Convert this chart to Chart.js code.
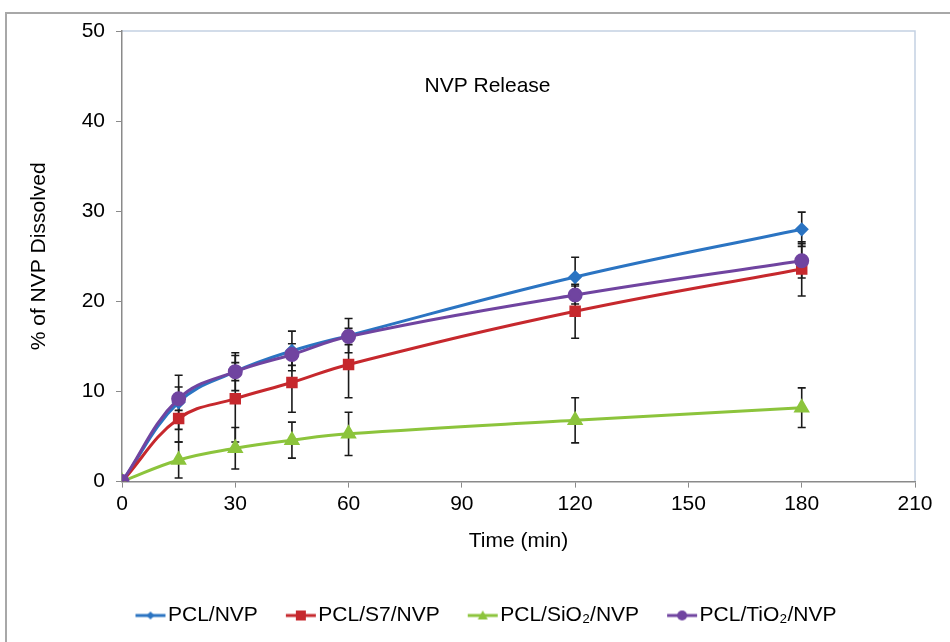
<!DOCTYPE html>
<html>
<head>
<meta charset="utf-8">
<script src="https://cdn.jsdelivr.net/npm/chart.js@4.4.1/dist/chart.umd.min.js"></script>
<style>
  html, body { margin: 0; padding: 0; background: #fff; overflow: hidden; }
  #wrap { position: relative; width: 950px; height: 642px; }
  #frame { position: absolute; left: 5px; top: 12px; width: 1000px; height: 700px; border: 2px solid #a8a8a8; box-sizing: border-box; }
  #chart { position: absolute; left: 0; top: 0; }
</style>
</head>
<body>
<div id="wrap">
  <div id="frame"></div>
  <canvas id="chart" width="950" height="642"></canvas>
</div>
<script>
// tempos de coleta (min)
const times = [0, 15, 30, 45, 60, 120, 180];

// % dissolvido por formulação, com desvio
const pclNvp = [0, 8.8, 12.2, 14.5, 16.2, 22.7, 28.0];
const pclNvpErr = [0, 3.0, 2.1, 2.2, 1.9, 2.2, 1.9];
const pclS7 = [0, 7.0, 9.2, 11.0, 13.0, 18.9, 23.6];
const pclS7Err = [0, 2.6, 4.8, 3.3, 3.7, 3.0, 3.0];
const pclSiO2 = [0, 2.4, 3.7, 4.6, 5.3, 6.8, 8.2];
const pclSiO2Err = [0, 2.0, 2.3, 2.0, 2.4, 2.5, 2.2];
const pclTiO2 = [0, 9.2, 12.2, 14.1, 16.1, 20.7, 24.5];
const pclTiO2Err = [0, 1.3, 1.0, 1.2, 0.9, 1.0, 1.9];

const seriesNames = ["PCL/NVP", "PCL/S7/NVP", "PCL/SiO\u2082/NVP", "PCL/TiO\u2082/NVP"];

const xTicks = [0, 30, 60, 90, 120, 150, 180, 210];
const yTicks = [0, 10, 20, 30, 40, 50];

const FONT = "'Liberation Sans', Arial, sans-serif";
const FSIZE = 21;

// ícone da legenda: linha com marcador (deslocado para a direita, perto do texto)
function legendIcon(color, style, r) {
  const c = document.createElement("canvas");
  c.width = 44;
  c.height = 16;
  const g = c.getContext("2d");
  const cx = 27;
  g.strokeStyle = color;
  g.fillStyle = color;
  g.lineWidth = 3;
  g.beginPath();
  g.moveTo(12, 8);
  g.lineTo(42, 8);
  g.stroke();
  g.beginPath();
  if (style === "rectRot") {
    g.moveTo(cx, 8 - r); g.lineTo(cx + r, 8); g.lineTo(cx, 8 + r); g.lineTo(cx - r, 8);
  } else if (style === "rect") {
    g.rect(cx - r, 8 - r, 2 * r, 2 * r);
  } else if (style === "triangle") {
    g.moveTo(cx, 8 - r); g.lineTo(cx + r, 8 + r * 0.8); g.lineTo(cx - r, 8 + r * 0.8);
  } else {
    g.arc(cx, 8, r, 0, Math.PI * 2);
  }
  g.closePath();
  g.fill();
  return c;
}

function makeSet(i, values, errs, color, style, radius, order) {
  return {
    label: seriesNames[i],
    data: times.map((t, k) => ({ x: t, y: values[k] })),
    errors: errs,
    borderColor: color,
    backgroundColor: color,
    borderWidth: 3,
    pointStyle: style,
    pointRadius: radius,
    pointHoverRadius: radius,
    tension: 0.4,
    order: order,
    legendIcon: legendIcon(color, style, style === "rectRot" ? 4 : 5),
  };
}

// barras de erro desenhadas pelas escalas do gráfico
const errorBars = {
  id: "errorBars",
  beforeDatasetsDraw(chart) {
    const ctx = chart.ctx;
    const xs = chart.scales.x;
    const ys = chart.scales.y;
    ctx.save();
    ctx.strokeStyle = "#1a1a1a";
    ctx.lineWidth = 1.6;
    chart.data.datasets.forEach((ds) => {
      ds.data.forEach((p, k) => {
        const e = ds.errors[k];
        if (!e) return;
        const x = xs.getPixelForValue(p.x);
        const y1 = ys.getPixelForValue(p.y + e);
        const y2 = ys.getPixelForValue(p.y - e);
        ctx.beginPath();
        ctx.moveTo(x, y1); ctx.lineTo(x, y2);
        ctx.moveTo(x - 4, y1); ctx.lineTo(x + 4, y1);
        ctx.moveTo(x - 4, y2); ctx.lineTo(x + 4, y2);
        ctx.stroke();
      });
    });
    ctx.restore();
  },
};

// borda superior/direita da área do gráfico e título interno
const plotFrame = {
  id: "plotFrame",
  beforeDraw(chart) {
    const a = chart.chartArea;
    const ctx = chart.ctx;
    ctx.save();
    ctx.strokeStyle = "#c3d1e2";
    ctx.lineWidth = 1.5;
    ctx.beginPath();
    ctx.moveTo(a.left, a.top);
    ctx.lineTo(a.right, a.top);
    ctx.lineTo(a.right, a.bottom);
    ctx.stroke();
    ctx.fillStyle = "#000";
    ctx.font = FSIZE + "px " + FONT;
    ctx.textAlign = "center";
    ctx.textBaseline = "middle";
    ctx.fillText("NVP Release", chart.scales.x.getPixelForValue(105) - 31, a.top + 55);
    ctx.restore();
  },
};

const ctx = document.getElementById("chart").getContext("2d");

const releaseChart = new Chart(ctx, {
  type: "line",
  data: {
    datasets: [
      makeSet(0, pclNvp, pclNvpErr, "#2b74c2", "rectRot", 5, 3),
      makeSet(1, pclS7, pclS7Err, "#c6282d", "rect", 6, 2),
      makeSet(2, pclSiO2, pclSiO2Err, "#8cc43c", "triangle", 6.5, 1),
      makeSet(3, pclTiO2, pclTiO2Err, "#7044a0", "circle", 6, 0),
    ],
  },
  options: {
    responsive: false,
    animation: false,
    layout: { padding: { left: 55, right: 35, top: 31, bottom: 6 } },
    scales: {
      x: {
        type: "linear",
        min: 0,
        max: 210,
        afterBuildTicks(scale) { scale.ticks = xTicks.map((v) => ({ value: v })); },
        border: { color: "#8a8a8a", width: 1.5 },
        grid: { drawOnChartArea: false, drawTicks: true, tickLength: 6, color: "#8a8a8a" },
        ticks: { color: "#000", font: { family: FONT, size: FSIZE }, padding: 4, maxRotation: 0 },
        title: { display: true, text: "Time (min)", color: "#000", font: { family: FONT, size: FSIZE }, padding: { top: 8, bottom: 25 } },
      },
      y: {
        min: 0,
        max: 50,
        afterBuildTicks(scale) { scale.ticks = yTicks.map((v) => ({ value: v })); },
        afterFit(scale) { scale.width = 67; },
        border: { color: "#8a8a8a", width: 1.5 },
        grid: { drawOnChartArea: false, drawTicks: true, tickLength: 6, color: "#8a8a8a" },
        ticks: { color: "#000", font: { family: FONT, size: FSIZE }, padding: 11 },
        title: { display: true, text: "% of NVP Dissolved", color: "#000", font: { family: FONT, size: FSIZE }, padding: { top: -28, bottom: 0 } },
      },
    },
    plugins: {
      legend: {
        position: "bottom",
        labels: {
          color: "#000",
          font: { family: FONT, size: FSIZE },
          usePointStyle: true,
          pointStyleWidth: 24,
          padding: 26,
          sort: (a, b) => a.datasetIndex - b.datasetIndex,
          generateLabels(chart) {
            return chart.data.datasets.map((ds, i) => ({
              text: ds.label,
              pointStyle: ds.legendIcon,
              fillStyle: ds.borderColor,
              strokeStyle: ds.borderColor,
              lineWidth: 0,
              datasetIndex: i,
              fontColor: "#000",
            }));
          },
        },
      },
      tooltip: { enabled: false },
    },
  },
  plugins: [errorBars, plotFrame],
});
</script>
</body>
</html>
